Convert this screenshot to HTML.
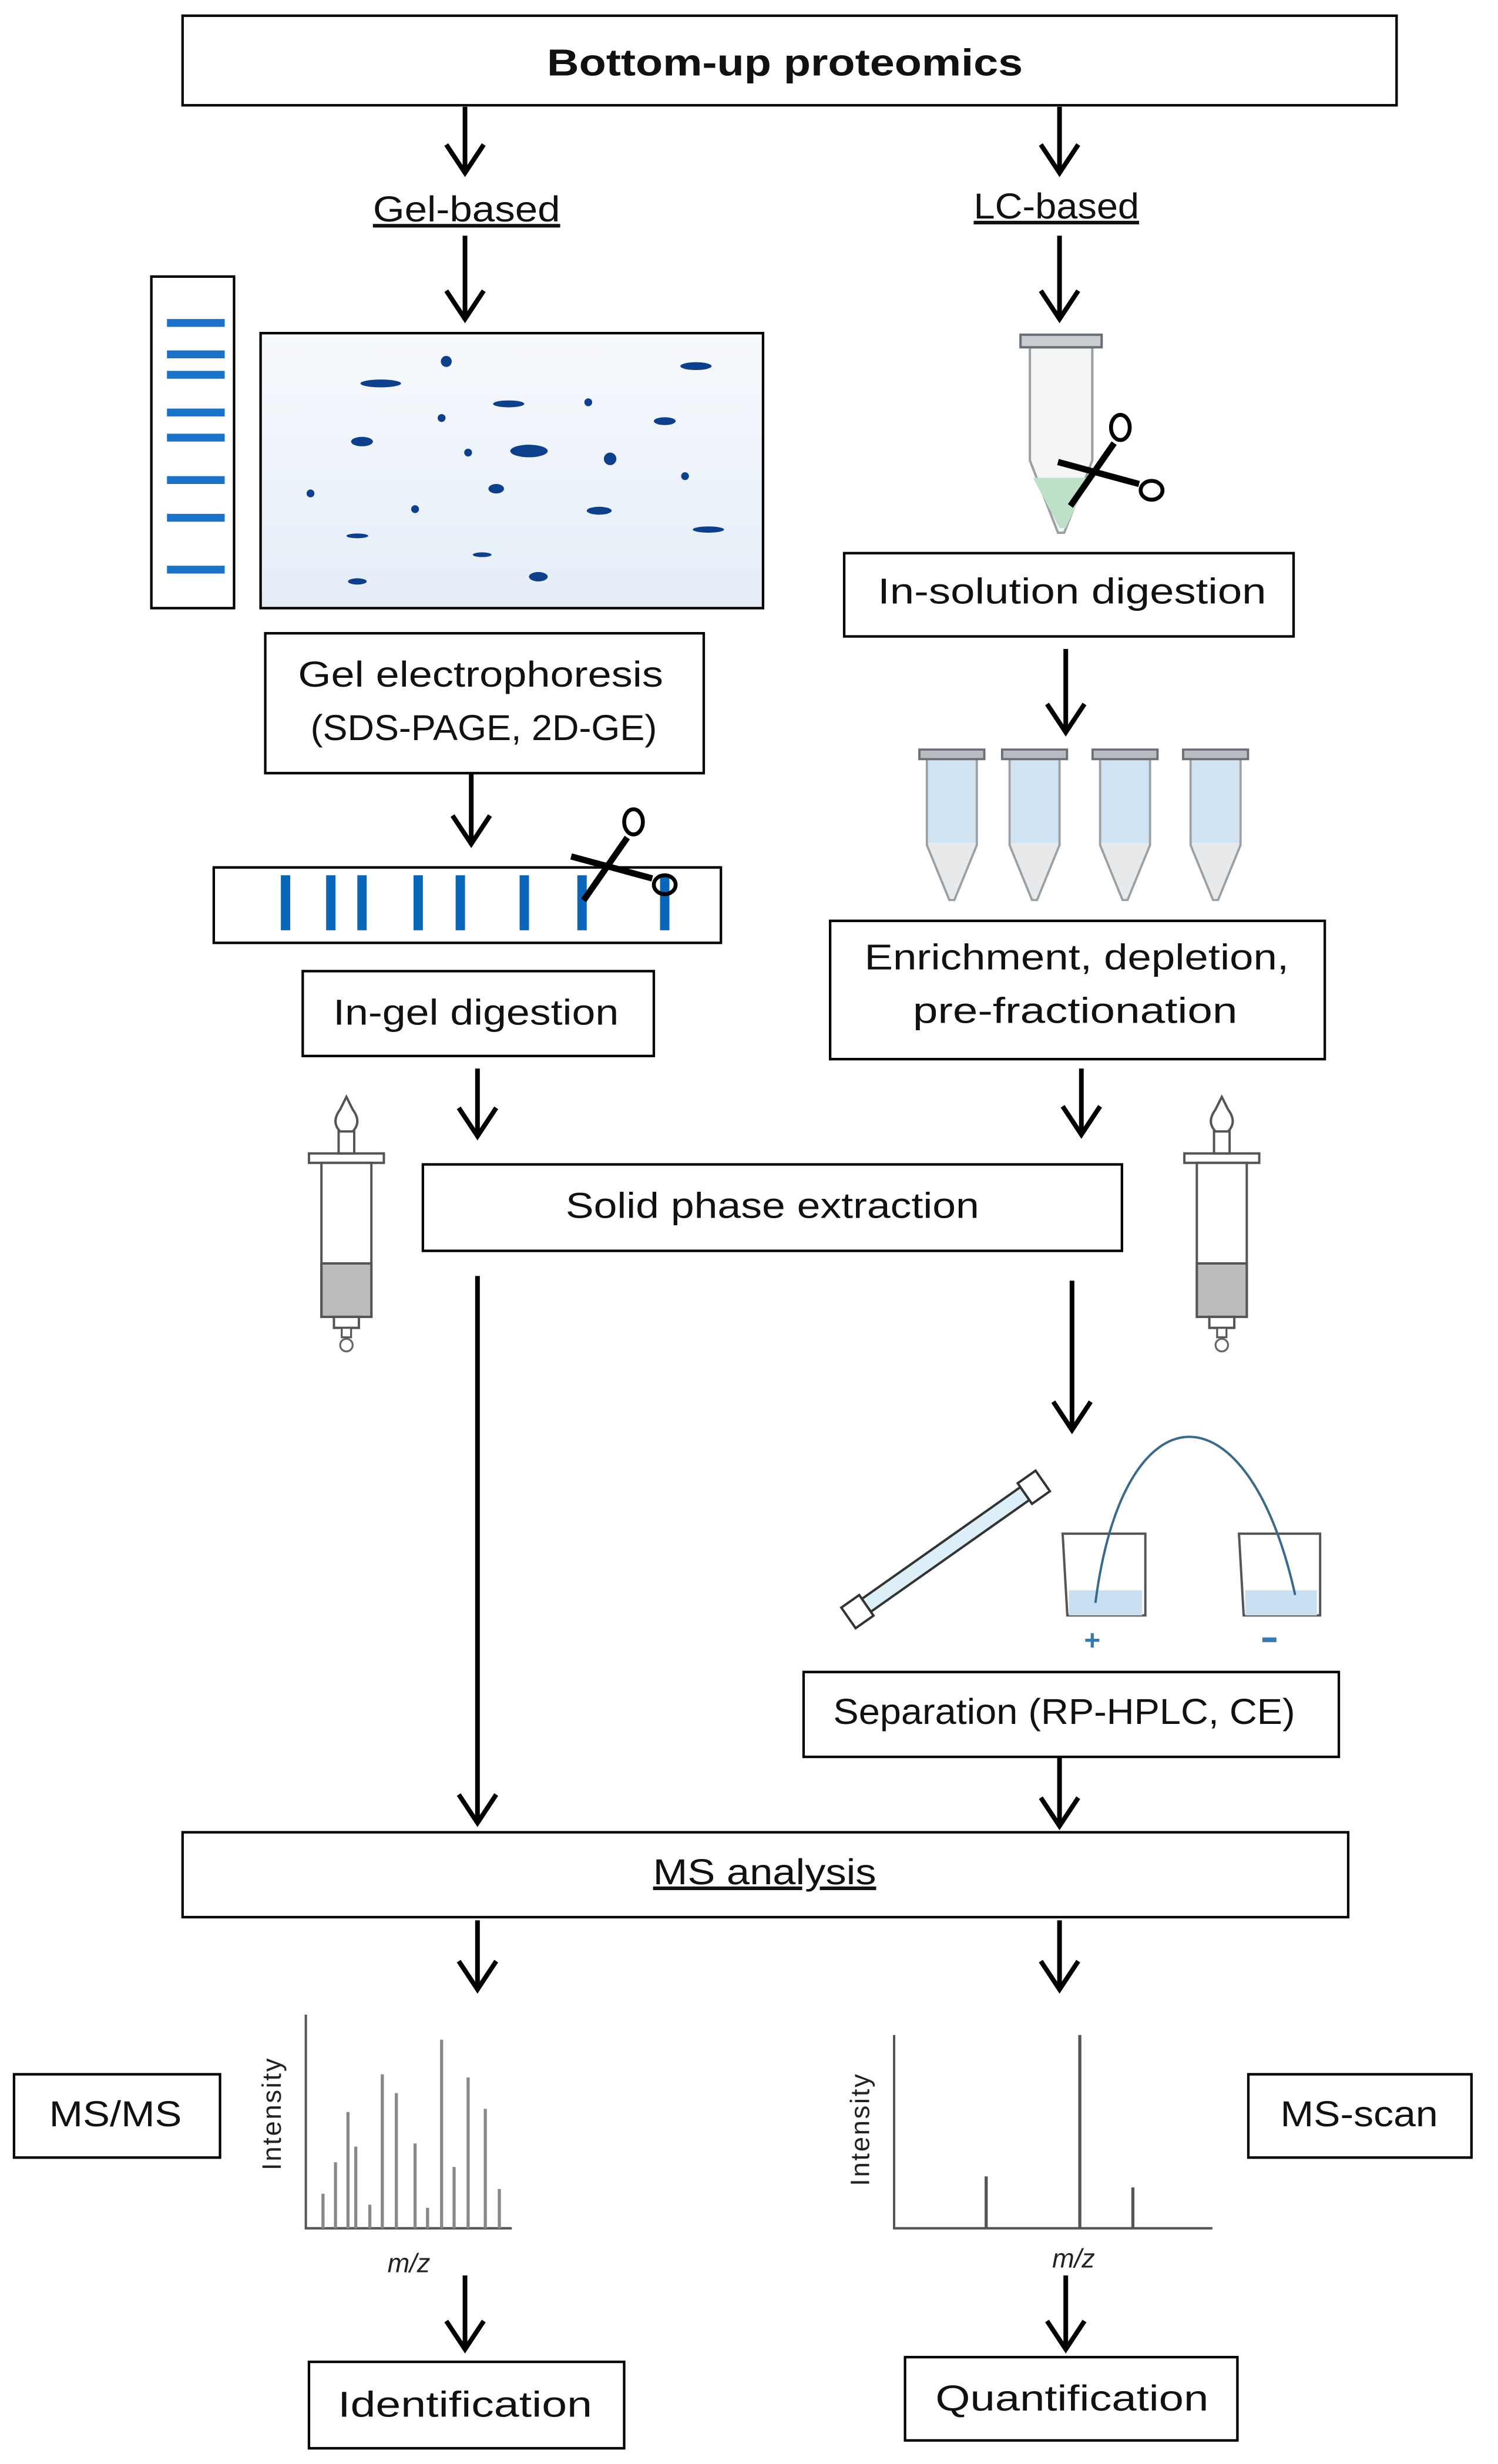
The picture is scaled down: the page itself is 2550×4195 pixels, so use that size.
<!DOCTYPE html>
<html><head><meta charset="utf-8"><style>html,body{margin:0;padding:0;background:#fff}svg{display:block}</style></head>
<body>
<svg width="2550" height="4195" viewBox="0 0 960 1568" preserveAspectRatio="none" xmlns="http://www.w3.org/2000/svg" font-family="Liberation Sans, sans-serif">
<defs>
<linearGradient id="gel" x1="0" y1="0" x2="0" y2="1"><stop offset="0" stop-color="#f7f9fd"/><stop offset="1" stop-color="#e4edf7"/></linearGradient>
<g id="tube">
<path d="M-20,8 L20,8 L20,80 L2,126 L-2,126 L-20,80 Z" fill="#f4f6f6" stroke="#9aa0a4" stroke-width="1.5"/>
<rect x="-26" y="0" width="52" height="8" fill="#c9ccd0" stroke="#6a6f75" stroke-width="1.5"/>
</g>
<g id="tube2">
<path d="M-20,8 L20,8 L20,80 L2,126 L-2,126 L-20,80 Z" fill="#e8e9eb" stroke="#9aa0a4" stroke-width="1.8"/>
<path d="M-19,9 L19,9 L19,78 L-19,78 Z" fill="#cfe3f2"/>
<rect x="-26" y="0" width="52" height="8" fill="#b9bcc0" stroke="#6a6f75" stroke-width="1.8"/>
</g>
<g id="syr">
<path d="M-4,0 Q-10,8 -4,14 Q0,18 4,14 Q10,8 4,0 L0,-8 Z" fill="#fff" stroke="#555" stroke-width="1.5"/>
<rect x="-24" y="28" width="48" height="6" fill="#fff" stroke="#555" stroke-width="1.5"/>
<rect x="-5" y="14" width="10" height="14" fill="#fff" stroke="#555" stroke-width="1.5"/>
<rect x="-16" y="34" width="32" height="98" fill="#fff" stroke="#555" stroke-width="1.5"/>
<rect x="-16" y="98" width="32" height="34" fill="#bbb" stroke="#555" stroke-width="1.5"/>
<rect x="-8" y="132" width="16" height="7" fill="#fff" stroke="#555" stroke-width="1.5"/>
<rect x="-3" y="139" width="6" height="6" fill="#fff" stroke="#555" stroke-width="1.2"/>
<circle cx="0" cy="150" r="4" fill="#fff" stroke="#666" stroke-width="1.2"/>
</g>
<g id="sc" fill="none" stroke="#000">
<line x1="0" y1="0" x2="28" y2="-40" stroke-width="4"/>
<line x1="-8" y1="-28" x2="44" y2="-14" stroke-width="4"/>
<ellipse cx="32" cy="-50" rx="6" ry="8" stroke-width="2.5"/>
<ellipse cx="52" cy="-10" rx="7" ry="6" stroke-width="2.5"/>
</g>
</defs>
<g fill="none" stroke="#000" stroke-width="1.6">
<rect x="117" y="10" width="778" height="57"/>
<rect x="97" y="176" width="53" height="211"/>
<rect x="167" y="212" width="322" height="175" fill="url(#gel)"/>
<rect x="170" y="403" width="281" height="89"/>
<rect x="137" y="552" width="325" height="48"/>
<rect x="194" y="618" width="225" height="54"/>
<rect x="271" y="741" width="448" height="55"/>
<rect x="541" y="352" width="288" height="53"/>
<rect x="532" y="586" width="317" height="88"/>
<rect x="515" y="1064" width="343" height="54"/>
<rect x="117" y="1166" width="747" height="54"/>
<rect x="9" y="1320" width="132" height="53"/>
<rect x="800" y="1320" width="143" height="53"/>
<rect x="198" y="1503" width="202" height="55"/>
<rect x="580" y="1500" width="213" height="53"/>
</g>
<g stroke="#000" stroke-width="3" fill="none">
<path d="M298,68V110M286,92L298,110L310,92"/>
<path d="M679,68V110M667,92L679,110L691,92"/>
<path d="M298,150V203M286,185L298,203L310,185"/>
<path d="M679,150V203M667,185L679,203L691,185"/>
<path d="M302,492V537M290,519L302,537L314,519"/>
<path d="M306,680V723M294,705L306,723L318,705"/>
<path d="M683,413V466M671,448L683,466L695,448"/>
<path d="M693,680V722M681,704L693,722L705,704"/>
<path d="M687,815V910M675,892L687,910L699,892"/>
<path d="M306,812V1160M294,1142L306,1160L318,1142"/>
<path d="M679,1118V1162M667,1144L679,1162L691,1144"/>
<path d="M306,1222V1266M294,1248L306,1266L318,1248"/>
<path d="M679,1222V1266M667,1248L679,1266L691,1248"/>
<path d="M298,1448V1495M286,1477L298,1495L310,1477"/>
<path d="M683,1448V1495M671,1477L683,1495L695,1477"/>
</g>
<g fill="#1a73c8">
<rect x="107" y="203" width="37" height="5"/><rect x="107" y="223" width="37" height="5"/><rect x="107" y="236" width="37" height="5"/>
<rect x="107" y="260" width="37" height="5"/><rect x="107" y="276" width="37" height="5"/><rect x="107" y="303" width="37" height="5"/>
<rect x="107" y="327" width="37" height="5"/><rect x="107" y="360" width="37" height="5"/>
</g>
<g fill="#0d3f8a">
<ellipse cx="244" cy="244" rx="13" ry="2.5"/><circle cx="286" cy="230" r="3.5"/><ellipse cx="446" cy="233" rx="10" ry="2.5"/>
<ellipse cx="326" cy="257" rx="10" ry="2.2"/><circle cx="377" cy="256" r="2.5"/><ellipse cx="426" cy="268" rx="7" ry="2.5"/>
<circle cx="283" cy="266" r="2.5"/><ellipse cx="232" cy="281" rx="7" ry="3"/><circle cx="300" cy="288" r="2.5"/>
<ellipse cx="339" cy="287" rx="12" ry="4"/><circle cx="391" cy="292" r="4"/><circle cx="199" cy="314" r="2.5"/>
<circle cx="439" cy="303" r="2.5"/><circle cx="266" cy="324" r="2.5"/><ellipse cx="318" cy="311" rx="5" ry="3"/>
<ellipse cx="384" cy="325" rx="8" ry="2.5"/><ellipse cx="229" cy="341" rx="7" ry="1.5"/><ellipse cx="454" cy="337" rx="10" ry="2"/>
<ellipse cx="309" cy="353" rx="6" ry="1.5"/><ellipse cx="229" cy="370" rx="6" ry="2"/><ellipse cx="345" cy="367" rx="6" ry="3"/>
</g>
<g fill="#0a66b8">
<rect x="180" y="557" width="6" height="35"/><rect x="209" y="557" width="6" height="35"/><rect x="229" y="557" width="6" height="35"/>
<rect x="265" y="557" width="6" height="35"/><rect x="292" y="557" width="6" height="35"/><rect x="333" y="557" width="6" height="35"/>
<rect x="370" y="557" width="6" height="35"/><rect x="423" y="557" width="6" height="35"/>
</g>
<use href="#sc" x="374" y="573"/>
<use href="#tube" x="680" y="213"/>
<path d="M662,304 L698,304 L683,336 L679,336 Z" fill="#bfe0c8"/>
<use href="#sc" x="686" y="322"/>
<use href="#tube2" transform="translate(610,477) scale(0.8,0.76)"/>
<use href="#tube2" transform="translate(663,477) scale(0.8,0.76)"/>
<use href="#tube2" transform="translate(721,477) scale(0.8,0.76)"/>
<use href="#tube2" transform="translate(779,477) scale(0.8,0.76)"/>
<use href="#syr" x="222" y="706"/>
<use href="#syr" x="783" y="706"/>
<g transform="translate(606,986) rotate(-35)">
<rect x="-62" y="-5" width="124" height="10" fill="#dceef8" stroke="#333" stroke-width="1.5"/>
<rect x="-76" y="-8" width="14" height="16" fill="#fff" stroke="#333" stroke-width="1.5"/>
<rect x="62" y="-8" width="14" height="16" fill="#fff" stroke="#333" stroke-width="1.5"/>
</g>
<g stroke="#555" stroke-width="1.5" fill="#fff">
<path d="M681,976H734V1028H684Z"/><path d="M794,976H846V1028H797Z"/>
</g>
<rect x="685" y="1012" width="47" height="16" fill="#c9e0f2"/><rect x="798" y="1012" width="46" height="16" fill="#c9e0f2"/>
<path d="M702,1020 C720,880 800,880 830,1015" fill="none" stroke="#3a6a8a" stroke-width="1.5"/>
<text x="700" y="1050" font-size="18" font-weight="bold" fill="#3a78b0" text-anchor="middle">+</text>
<rect x="809" y="1042" width="9" height="3" fill="#3a78b0"/>
<g stroke="#555" stroke-width="1.5" fill="none">
<path d="M196,1282V1418H328"/>
<path d="M573,1295V1418H777"/>
</g>
<g stroke="#888" stroke-width="2">
<path d="M207,1418V1396M215,1418V1376M223,1418V1344M228,1418V1366M237,1418V1403M245,1418V1320M254,1418V1332M266,1418V1364M274,1418V1405M283,1418V1298M291,1418V1379M300,1418V1322M311,1418V1342M320,1418V1393"/>
</g>
<g stroke="#555" stroke-width="2">
<path d="M632,1418V1385M692,1418V1295M726,1418V1392"/>
</g>
<g font-size="17" fill="#222" text-anchor="middle">
<text transform="translate(180,1345) rotate(-90)" letter-spacing="1">Intensity</text>
<text transform="translate(557,1355) rotate(-90)" letter-spacing="1">Intensity</text>
<text x="262" y="1446" font-style="italic">m/z</text>
<text x="688" y="1443" font-style="italic">m/z</text>
</g>
<g fill="#111" text-anchor="middle" font-size="23" lengthAdjust="spacingAndGlyphs">
<text x="503" y="48" font-weight="bold" font-size="24" textLength="305" lengthAdjust="spacingAndGlyphs">Bottom-up proteomics</text>
<text x="299" y="141" textLength="120" lengthAdjust="spacingAndGlyphs" text-decoration="underline">Gel-based</text>
<text x="677" y="139" textLength="106" lengthAdjust="spacingAndGlyphs" text-decoration="underline">LC-based</text>
<text x="308" y="437" textLength="234" lengthAdjust="spacingAndGlyphs">Gel electrophoresis</text>
<text x="310" y="471" textLength="222" lengthAdjust="spacingAndGlyphs">(SDS-PAGE,  2D-GE)</text>
<text x="305" y="652" textLength="183" lengthAdjust="spacingAndGlyphs">In-gel digestion</text>
<text x="495" y="775" textLength="265" lengthAdjust="spacingAndGlyphs">Solid phase extraction</text>
<text x="687" y="384" textLength="249" lengthAdjust="spacingAndGlyphs">In-solution digestion</text>
<text x="690" y="617" textLength="272" lengthAdjust="spacingAndGlyphs">Enrichment, depletion,</text>
<text x="689" y="651" textLength="208" lengthAdjust="spacingAndGlyphs">pre-fractionation</text>
<text x="682" y="1097" textLength="296" lengthAdjust="spacingAndGlyphs">Separation (RP-HPLC, CE)</text>
<text x="490" y="1199" textLength="143" lengthAdjust="spacingAndGlyphs" text-decoration="underline">MS analysis</text>
<text x="74" y="1353" textLength="85" lengthAdjust="spacingAndGlyphs">MS/MS</text>
<text x="871" y="1353" textLength="101" lengthAdjust="spacingAndGlyphs">MS-scan</text>
<text x="298" y="1538" textLength="163" lengthAdjust="spacingAndGlyphs">Identification</text>
<text x="687" y="1534" textLength="175" lengthAdjust="spacingAndGlyphs">Quantification</text>
</g>
</svg>
</body></html>
